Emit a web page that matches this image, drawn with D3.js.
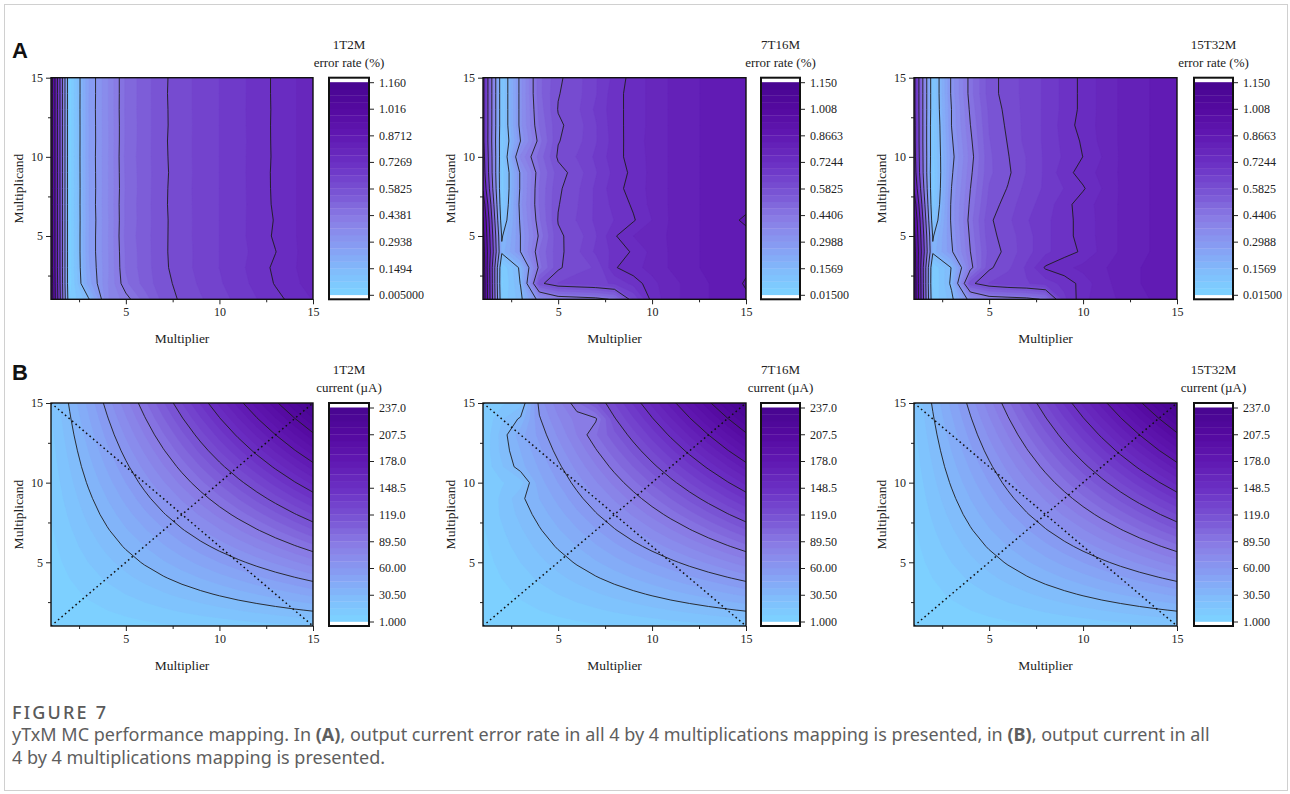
<!DOCTYPE html>
<html>
<head>
<meta charset="utf-8">
<script src="https://cdn.jsdelivr.net/npm/d3@7"></script>
<style>
  body { margin: 0; background: #fff; }
  svg { display: block; }
</style>
</head>
<body>
<svg id="fig" width="1290" height="794"></svg>
<script>
// axes: multiplier (x) and multiplicand (y), 1..15
const xTicks = [5, 10, 15];
const xMinor = [2.5, 7.5, 12.5];
const yTicks = [5, 10, 15];
const yMinor = [2.5, 7.5, 12.5];

// colour bar labels, as printed
const errTicks1T2M = ["0.005000", "0.1494", "0.2938", "0.4381", "0.5825", "0.7269", "0.8712", "1.016", "1.160"];
const errTicks7T16M = ["0.01500", "0.1569", "0.2988", "0.4406", "0.5825", "0.7244", "0.8663", "1.008", "1.150"];
const errTicks15T32M = ["0.01500", "0.1569", "0.2988", "0.4406", "0.5825", "0.7244", "0.8663", "1.008", "1.150"];
const curTicks = ["1.000", "30.50", "60.00", "89.50", "119.0", "148.5", "178.0", "207.5", "237.0"];

// error rate (%), one row per multiplicand 1..15, columns = multiplier 1..15
const err1T2M = [
  [1.12, 0.04, 0.14, 0.36, 0.42, 0.49, 0.56, 0.59, 0.615, 0.64, 0.665, 0.69, 0.715, 0.74, 0.765],
  [1.11, 0.02, 0.236, 0.359, 0.466, 0.525, 0.57, 0.596, 0.625, 0.65, 0.675, 0.702, 0.73, 0.755, 0.78],
  [1.10, 0.02, 0.25, 0.355, 0.478, 0.53, 0.574, 0.604, 0.63, 0.655, 0.68, 0.708, 0.735, 0.76, 0.785],
  [1.10, 0.02, 0.255, 0.357, 0.48, 0.53, 0.576, 0.603, 0.63, 0.655, 0.68, 0.70, 0.726, 0.758, 0.785],
  [1.10, 0.02, 0.255, 0.357, 0.485, 0.532, 0.575, 0.605, 0.63, 0.655, 0.68, 0.706, 0.733, 0.76, 0.785],
  [1.10, 0.02, 0.253, 0.356, 0.482, 0.53, 0.575, 0.604, 0.63, 0.655, 0.68, 0.705, 0.73, 0.76, 0.785],
  [1.10, 0.02, 0.255, 0.358, 0.483, 0.531, 0.576, 0.605, 0.63, 0.655, 0.68, 0.704, 0.734, 0.76, 0.785],
  [1.10, 0.02, 0.254, 0.357, 0.48, 0.53, 0.575, 0.606, 0.63, 0.655, 0.68, 0.705, 0.735, 0.76, 0.785],
  [1.10, 0.02, 0.255, 0.357, 0.482, 0.53, 0.574, 0.604, 0.63, 0.655, 0.68, 0.706, 0.735, 0.76, 0.785],
  [1.10, 0.02, 0.256, 0.357, 0.484, 0.531, 0.575, 0.605, 0.63, 0.655, 0.68, 0.705, 0.734, 0.76, 0.785],
  [1.10, 0.02, 0.255, 0.356, 0.482, 0.53, 0.576, 0.605, 0.63, 0.655, 0.68, 0.704, 0.735, 0.76, 0.785],
  [1.10, 0.02, 0.255, 0.357, 0.481, 0.53, 0.575, 0.604, 0.63, 0.655, 0.68, 0.705, 0.735, 0.76, 0.785],
  [1.10, 0.02, 0.256, 0.357, 0.483, 0.53, 0.575, 0.605, 0.63, 0.655, 0.68, 0.706, 0.734, 0.76, 0.785],
  [1.10, 0.02, 0.255, 0.357, 0.482, 0.53, 0.576, 0.605, 0.63, 0.655, 0.68, 0.705, 0.735, 0.76, 0.785],
  [1.10, 0.02, 0.255, 0.357, 0.482, 0.53, 0.575, 0.605, 0.63, 0.655, 0.68, 0.705, 0.735, 0.76, 0.785]
];
const err7T16M = [
  [1.12, 0.06, 0.14, 0.33, 0.40, 0.41, 0.42, 0.45, 0.62, 0.74, 0.78, 0.81, 0.83, 0.85, 0.86],
  [1.12, 0.04, 0.16, 0.57, 0.62, 0.63, 0.64, 0.66, 0.70, 0.75, 0.78, 0.81, 0.83, 0.85, 0.87],
  [1.10, 0.05, 0.17, 0.46, 0.575, 0.61, 0.62, 0.72, 0.75, 0.77, 0.80, 0.82, 0.84, 0.85, 0.86],
  [1.08, 0.17, 0.30, 0.48, 0.57, 0.61, 0.66, 0.70, 0.73, 0.77, 0.80, 0.82, 0.84, 0.85, 0.86],
  [1.05, 0.15, 0.30, 0.45, 0.575, 0.60, 0.65, 0.72, 0.76, 0.78, 0.80, 0.82, 0.84, 0.85, 0.86],
  [1.02, 0.10, 0.31, 0.47, 0.585, 0.62, 0.66, 0.69, 0.72, 0.76, 0.80, 0.82, 0.84, 0.86, 0.87],
  [0.95, 0.07, 0.32, 0.48, 0.58, 0.615, 0.66, 0.70, 0.73, 0.77, 0.80, 0.82, 0.84, 0.85, 0.86],
  [0.85, 0.06, 0.31, 0.48, 0.575, 0.61, 0.66, 0.71, 0.74, 0.77, 0.80, 0.82, 0.84, 0.85, 0.86],
  [0.80, 0.06, 0.31, 0.47, 0.565, 0.60, 0.65, 0.70, 0.735, 0.77, 0.80, 0.82, 0.84, 0.85, 0.86],
  [0.78, 0.07, 0.38, 0.49, 0.59, 0.62, 0.66, 0.71, 0.74, 0.77, 0.80, 0.82, 0.84, 0.85, 0.86],
  [0.76, 0.07, 0.30, 0.46, 0.58, 0.605, 0.65, 0.705, 0.745, 0.77, 0.80, 0.82, 0.84, 0.85, 0.86],
  [0.76, 0.08, 0.32, 0.48, 0.575, 0.60, 0.65, 0.71, 0.74, 0.77, 0.80, 0.82, 0.84, 0.85, 0.86],
  [0.76, 0.08, 0.32, 0.49, 0.585, 0.61, 0.66, 0.71, 0.74, 0.77, 0.80, 0.82, 0.84, 0.85, 0.86],
  [0.76, 0.08, 0.32, 0.50, 0.58, 0.605, 0.65, 0.71, 0.74, 0.77, 0.80, 0.82, 0.84, 0.85, 0.86],
  [0.76, 0.08, 0.32, 0.50, 0.575, 0.604, 0.65, 0.70, 0.74, 0.77, 0.80, 0.82, 0.84, 0.85, 0.86]
];
const err15T32M = [
  [1.12, 0.06, 0.14, 0.33, 0.40, 0.41, 0.42, 0.45, 0.68, 0.75, 0.78, 0.80, 0.82, 0.84, 0.85],
  [1.12, 0.04, 0.17, 0.57, 0.62, 0.64, 0.65, 0.67, 0.70, 0.74, 0.78, 0.81, 0.83, 0.84, 0.85],
  [1.10, 0.05, 0.16, 0.42, 0.575, 0.61, 0.66, 0.73, 0.75, 0.77, 0.79, 0.81, 0.83, 0.84, 0.85],
  [1.08, 0.17, 0.29, 0.44, 0.56, 0.595, 0.64, 0.68, 0.71, 0.73, 0.77, 0.80, 0.82, 0.84, 0.85],
  [1.05, 0.15, 0.30, 0.45, 0.57, 0.60, 0.64, 0.68, 0.71, 0.74, 0.77, 0.80, 0.82, 0.84, 0.85],
  [1.02, 0.10, 0.31, 0.46, 0.575, 0.61, 0.65, 0.68, 0.71, 0.74, 0.77, 0.80, 0.82, 0.84, 0.86],
  [0.95, 0.07, 0.31, 0.45, 0.56, 0.60, 0.64, 0.67, 0.71, 0.745, 0.77, 0.80, 0.82, 0.84, 0.85],
  [0.86, 0.06, 0.30, 0.44, 0.55, 0.585, 0.63, 0.66, 0.69, 0.72, 0.76, 0.80, 0.82, 0.84, 0.85],
  [0.80, 0.06, 0.29, 0.43, 0.54, 0.575, 0.62, 0.66, 0.71, 0.74, 0.77, 0.80, 0.82, 0.84, 0.85],
  [0.78, 0.07, 0.28, 0.42, 0.54, 0.58, 0.62, 0.66, 0.695, 0.725, 0.76, 0.80, 0.82, 0.84, 0.85],
  [0.77, 0.07, 0.29, 0.43, 0.545, 0.585, 0.63, 0.66, 0.70, 0.73, 0.77, 0.80, 0.82, 0.84, 0.85],
  [0.77, 0.07, 0.30, 0.44, 0.55, 0.59, 0.63, 0.66, 0.705, 0.74, 0.77, 0.80, 0.82, 0.84, 0.85],
  [0.76, 0.08, 0.30, 0.45, 0.555, 0.595, 0.63, 0.66, 0.70, 0.735, 0.77, 0.80, 0.82, 0.84, 0.85],
  [0.76, 0.08, 0.31, 0.46, 0.565, 0.60, 0.63, 0.66, 0.70, 0.735, 0.77, 0.80, 0.82, 0.84, 0.85],
  [0.76, 0.08, 0.31, 0.46, 0.565, 0.60, 0.63, 0.66, 0.70, 0.735, 0.77, 0.80, 0.82, 0.84, 0.85]
];

// output current (uA), same layout
const cur1T2M = [
  [1.0, 2.1, 3.2, 4.2, 5.3, 6.3, 7.4, 8.4, 9.5, 10.5, 11.6, 12.6, 13.7, 14.7, 15.8],
  [2.1, 4.2, 6.3, 8.4, 10.5, 12.6, 14.7, 16.9, 19.0, 21.1, 23.2, 25.3, 27.4, 29.5, 31.6],
  [3.2, 6.3, 9.5, 12.6, 15.8, 19.0, 22.1, 25.3, 28.4, 31.6, 34.8, 37.9, 41.1, 44.2, 47.4],
  [4.2, 8.4, 12.6, 16.9, 21.1, 25.3, 29.5, 33.7, 37.9, 42.1, 46.3, 50.6, 54.8, 59.0, 63.2],
  [5.3, 10.5, 15.8, 21.1, 26.3, 31.6, 36.9, 42.1, 47.4, 52.7, 57.9, 63.2, 68.5, 73.7, 79.0],
  [6.3, 12.6, 19.0, 25.3, 31.6, 37.9, 44.2, 50.6, 56.9, 63.2, 69.5, 75.8, 82.2, 88.5, 94.8],
  [7.4, 14.7, 22.1, 29.5, 36.9, 44.2, 51.6, 59.0, 66.4, 73.7, 81.1, 88.5, 95.9, 103.2, 110.6],
  [8.4, 16.9, 25.3, 33.7, 42.1, 50.6, 59.0, 67.4, 75.8, 84.3, 92.7, 101.1, 109.5, 118.0, 126.4],
  [9.5, 19.0, 28.4, 37.9, 47.4, 56.9, 66.4, 75.8, 85.3, 94.8, 104.3, 113.8, 123.2, 132.7, 142.2],
  [10.5, 21.1, 31.6, 42.1, 52.7, 63.2, 73.7, 84.3, 94.8, 105.3, 115.9, 126.4, 136.9, 147.5, 158.0],
  [11.6, 23.2, 34.8, 46.3, 57.9, 69.5, 81.1, 92.7, 104.3, 115.9, 127.5, 139.0, 150.6, 162.2, 173.8],
  [12.6, 25.3, 37.9, 50.6, 63.2, 75.8, 88.5, 101.1, 113.8, 126.4, 139.0, 151.7, 164.3, 177.0, 189.6],
  [13.7, 27.4, 41.1, 54.8, 68.5, 82.2, 95.9, 109.5, 123.2, 136.9, 150.6, 164.3, 178.0, 191.7, 205.4],
  [14.7, 29.5, 44.2, 59.0, 73.7, 88.5, 103.2, 118.0, 132.7, 147.5, 162.2, 177.0, 191.7, 206.5, 221.2],
  [15.8, 31.6, 47.4, 63.2, 79.0, 94.8, 110.6, 126.4, 142.2, 158.0, 173.8, 189.6, 205.4, 221.2, 237.0]
];
const cur7T16M = [
  [1.0, 2.1, 3.2, 4.2, 5.3, 6.3, 7.4, 8.4, 9.5, 10.5, 11.6, 12.6, 13.7, 14.7, 15.8],
  [2.1, 4.2, 6.3, 8.4, 10.5, 12.6, 14.7, 16.9, 19.0, 21.1, 23.2, 25.3, 27.4, 29.5, 31.6],
  [3.2, 6.3, 9.5, 12.6, 15.8, 19.0, 22.1, 25.3, 28.4, 31.6, 34.8, 37.9, 41.1, 44.2, 47.4],
  [4.2, 8.4, 12.6, 16.9, 21.1, 25.3, 29.5, 33.7, 37.9, 42.1, 46.3, 50.6, 54.8, 59.0, 63.2],
  [5.3, 10.5, 15.8, 21.1, 26.3, 31.6, 36.9, 42.1, 47.4, 52.7, 57.9, 63.2, 68.5, 73.7, 79.0],
  [6.3, 12.6, 19.0, 25.3, 31.6, 37.9, 44.2, 50.6, 56.9, 63.2, 69.5, 75.8, 82.2, 88.5, 94.8],
  [7.4, 14.7, 22.1, 29.5, 36.9, 44.2, 51.6, 59.0, 66.4, 73.7, 81.1, 88.5, 95.9, 103.2, 110.6],
  [8.4, 16.9, 25.3, 33.7, 42.1, 50.6, 59.0, 67.4, 75.8, 84.3, 92.7, 101.1, 109.5, 118.0, 126.4],
  [9.5, 17.0, 28.4, 37.9, 47.4, 56.9, 66.4, 75.8, 85.3, 94.8, 104.3, 113.8, 123.2, 132.7, 142.2],
  [9.0, 15.0, 20.0, 42.1, 52.7, 63.2, 73.7, 84.3, 94.8, 105.3, 115.9, 126.4, 136.9, 147.5, 158.0],
  [10.0, 22.0, 35.0, 46.3, 57.9, 69.5, 81.1, 92.7, 104.3, 115.9, 127.5, 139.0, 150.6, 162.2, 173.8],
  [10.0, 25.3, 37.9, 50.6, 63.2, 75.8, 88.5, 101.1, 113.8, 126.4, 139.0, 151.7, 164.3, 177.0, 189.6],
  [9.0, 26.0, 42.0, 54.8, 68.5, 82.2, 95.9, 109.5, 123.2, 136.9, 150.6, 164.3, 178.0, 191.7, 205.4],
  [8.0, 22.0, 32.0, 59.0, 73.7, 85.0, 88.0, 118.0, 132.7, 147.5, 162.2, 177.0, 191.7, 206.5, 221.2],
  [8.0, 14.0, 20.0, 63.2, 79.0, 94.8, 110.6, 126.4, 142.2, 158.0, 173.8, 189.6, 205.4, 221.2, 237.0]
];
const cur15T32M = cur1T2M; // reads the same as 1T2M

// dotted guide lines in the current maps
const guideLines = [[[1, 1], [15, 15]], [[1, 15], [15, 1]]];

const panels = [
  { name: "1T2M", unit: "error rate (%)", grid: err1T2M, ticks: errTicks1T2M },
  { name: "7T16M", unit: "error rate (%)", grid: err7T16M, ticks: errTicks7T16M },
  { name: "15T32M", unit: "error rate (%)", grid: err15T32M, ticks: errTicks15T32M },
  { name: "1T2M", unit: "current (\u00b5A)", grid: cur1T2M, ticks: curTicks, guides: true },
  { name: "7T16M", unit: "current (\u00b5A)", grid: cur7T16M, ticks: curTicks, guides: true },
  { name: "15T32M", unit: "current (\u00b5A)", grid: cur15T32M, ticks: curTicks, guides: true }
];

// layout
const colPlot = [[51, 313], [483, 746], [914, 1177]];
const colBar = [[329, 369], [761, 800], [1194, 1233]];
const rowPlot = [[77.7, 299.3], [403, 626]];
const nBands = 32;
const serif = "Liberation Serif, serif";

// light blue -> dark purple
const color = d3.scaleLinear()
  .domain([0, 0.10, 0.22, 0.35, 0.47, 0.60, 0.75, 0.88, 1])
  .range(["#7dd3ff", "#80bffc", "#879ff4", "#8a7fe6", "#7b58d6", "#6d34c6", "#6018b2", "#54099f", "#470590"])
  .interpolate(d3.interpolateRgb);

const svg = d3.select("#fig");
svg.append("rect").attr("width", 1290).attr("height", 794).attr("fill", "#fff");
svg.append("rect").attr("x", 4.5).attr("y", 4.5).attr("width", 1283).attr("height", 786)
  .attr("fill", "none").attr("stroke", "#d0d0d0");

panels.forEach(function (p, i) {
  const c = i % 3, r = Math.floor(i / 3);
  const [x0, x1] = colPlot[c];
  const [y0, y1] = rowPlot[r];
  const xs = d3.scaleLinear().domain([1, 15]).range([x0, x1]);
  const ys = d3.scaleLinear().domain([1, 15]).range([y1, y0]);
  const levels = p.ticks.map(Number);
  const lo = levels[0], hi = levels[levels.length - 1];
  const step = (hi - lo) / nBands;
  const values = p.grid.flat();

  const g = svg.append("g");
  const clipId = "clip" + i;
  svg.append("clipPath").attr("id", clipId)
    .append("rect").attr("x", x0).attr("y", y0).attr("width", x1 - x0).attr("height", y1 - y0);

  // grid cell i sits at contour coord i + 0.5 -> data value i + 1
  const path = d3.geoPath(d3.geoTransform({
    point: function (x, y) { this.stream.point(xs(x + 0.5), ys(y + 0.5)); }
  }));

  const plot = g.append("g").attr("clip-path", "url(#" + clipId + ")");
  plot.append("rect").attr("x", x0).attr("y", y0).attr("width", x1 - x0).attr("height", y1 - y0)
    .attr("fill", color(0.5 / nBands));

  const bands = d3.contours().size([15, 15])
    .thresholds(d3.range(nBands).map(k => lo + k * step))(values);
  plot.selectAll("path.band").data(bands).join("path")
    .attr("class", "band")
    .attr("d", path)
    .attr("fill", (d, k) => color((k + 0.5) / nBands))
    .attr("stroke", (d, k) => color((k + 0.5) / nBands))
    .attr("stroke-width", 0.4);

  const iso = d3.contours().size([15, 15]).thresholds(levels.slice(1, -1))(values);
  plot.selectAll("path.iso").data(iso).join("path")
    .attr("class", "iso")
    .attr("d", path)
    .attr("fill", "none")
    .attr("stroke", "#1e1e1e")
    .attr("stroke-width", 0.9);

  if (p.guides) {
    plot.selectAll("line.guide").data(guideLines).join("line")
      .attr("class", "guide")
      .attr("x1", d => xs(d[0][0])).attr("y1", d => ys(d[0][1]))
      .attr("x2", d => xs(d[1][0])).attr("y2", d => ys(d[1][1]))
      .attr("stroke", "#111").attr("stroke-width", 1.5)
      .attr("stroke-dasharray", "1.6,3");
  }

  // axes
  const axB = g.append("g").attr("transform", "translate(0," + y1 + ")")
    .call(d3.axisBottom(xs).tickValues(xTicks).tickSize(5).tickPadding(3).tickFormat(d3.format("d")));
  const axBm = g.append("g").attr("transform", "translate(0," + y1 + ")")
    .call(d3.axisBottom(xs).tickValues(xMinor).tickSize(3).tickFormat(""));
  const axL = g.append("g").attr("transform", "translate(" + x0 + ",0)")
    .call(d3.axisLeft(ys).tickValues(yTicks).tickSize(5).tickPadding(3).tickFormat(d3.format("d")));
  const axLm = g.append("g").attr("transform", "translate(" + x0 + ",0)")
    .call(d3.axisLeft(ys).tickValues(yMinor).tickSize(3).tickFormat(""));
  [axB, axBm, axL, axLm].forEach(a => {
    a.select(".domain").remove();
    a.selectAll("line").attr("stroke", "#222").attr("stroke-width", 1);
    a.selectAll("text").attr("font-size", 12).attr("fill", "#222").attr("font-family", serif);
  });

  g.append("rect").attr("x", x0).attr("y", y0).attr("width", x1 - x0).attr("height", y1 - y0)
    .attr("fill", "none").attr("stroke", "#111").attr("stroke-width", 1.4);

  g.append("text").attr("x", (x0 + x1) / 2).attr("y", y1 + 44)
    .attr("text-anchor", "middle").attr("font-size", 13.5).attr("fill", "#222")
    .attr("font-family", serif).text("Multiplier");
  g.append("text")
    .attr("transform", "translate(" + (x0 - 28) + "," + (y0 + y1) / 2 + ") rotate(-90)")
    .attr("text-anchor", "middle").attr("font-size", 13.5).attr("fill", "#222")
    .attr("font-family", serif).text("Multiplicand");

  // colour bar
  const [b0, b1] = colBar[c];
  const cb = d3.scaleLinear().domain([lo, hi]).range([y1 - 4.5, y0 + 4.5]);
  g.append("rect").attr("x", b0).attr("y", y0).attr("width", b1 - b0).attr("height", y1 - y0).attr("fill", "#fff");
  g.selectAll("rect.cbband").data(d3.range(nBands)).join("rect")
    .attr("class", "cbband")
    .attr("x", b0).attr("width", b1 - b0)
    .attr("y", k => cb(lo + (k + 1) * step))
    .attr("height", k => cb(lo + k * step) - cb(lo + (k + 1) * step) + 0.3)
    .attr("fill", k => color((k + 0.5) / nBands));
  g.append("rect").attr("x", b0).attr("y", y0).attr("width", b1 - b0).attr("height", y1 - y0)
    .attr("fill", "none").attr("stroke", "#111").attr("stroke-width", 2);
  const axC = g.append("g").attr("transform", "translate(" + (b1 + 1) + ",0)")
    .call(d3.axisRight(cb).tickValues(levels).tickSize(4).tickPadding(5).tickFormat((d, k) => p.ticks[k]));
  axC.select(".domain").remove();
  axC.selectAll("line").attr("stroke", "#222");
  axC.selectAll("text").attr("font-size", 12).attr("fill", "#222").attr("font-family", serif);

  g.append("text").attr("x", (b0 + b1) / 2).attr("y", y0 - 29)
    .attr("text-anchor", "middle").attr("font-size", 13).attr("fill", "#222")
    .attr("font-family", serif).text(p.name);
  g.append("text").attr("x", (b0 + b1) / 2).attr("y", y0 - 11)
    .attr("text-anchor", "middle").attr("font-size", 13).attr("fill", "#222")
    .attr("font-family", serif).text(p.unit);
});

// panel letters
svg.selectAll("text.letter").data([["A", 58], ["B", 380]]).join("text")
  .attr("class", "letter")
  .attr("x", 12).attr("y", d => d[1])
  .attr("font-family", "Liberation Sans, Arial, sans-serif").attr("font-weight", "bold")
  .attr("font-size", 22).attr("fill", "#111").text(d => d[0]);

// caption
const cap = svg.append("g").attr("font-family", "Noto Sans, Open Sans, sans-serif").attr("fill", "#5e5e5e");
cap.append("text").attr("x", 12).attr("y", 719).attr("font-size", 18).attr("font-weight", 500)
  .attr("letter-spacing", 2.2).attr("fill", "#5a5a5a").text("FIGURE 7");
const l1 = cap.append("text").attr("x", 12).attr("y", 741).attr("font-size", 18);
l1.append("tspan").text("yTxM MC performance mapping. In ");
l1.append("tspan").attr("font-weight", "bold").text("(A)");
l1.append("tspan").text(", output current error rate in all 4 by 4 multiplications mapping is presented, in ");
l1.append("tspan").attr("font-weight", "bold").text("(B)");
l1.append("tspan").text(", output current in all");
cap.append("text").attr("x", 12).attr("y", 764).attr("font-size", 18)
  .text("4 by 4 multiplications mapping is presented.");
</script>
</body>
</html>
